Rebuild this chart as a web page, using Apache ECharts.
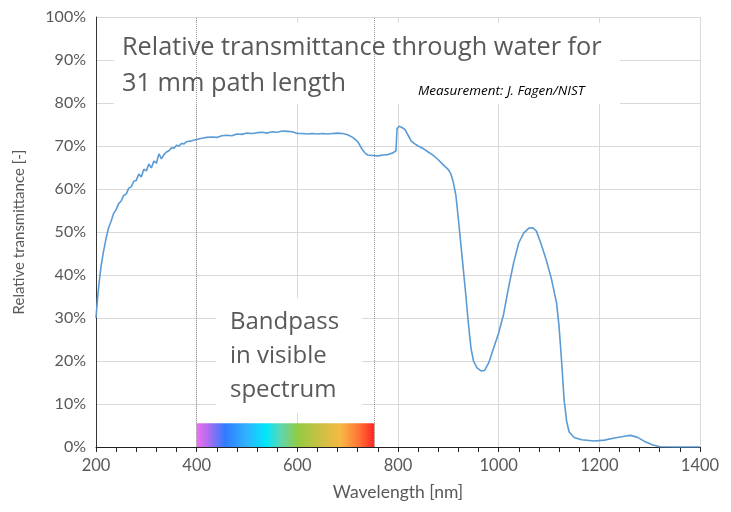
<!DOCTYPE html>
<html>
<head>
<meta charset="utf-8">
<script src="https://cdn.jsdelivr.net/npm/echarts@6/dist/echarts.min.js"></script>
<style>
  html, body { margin: 0; padding: 0; background: #fff; }
  #chart { width: 731px; height: 512px; }
</style>
</head>
<body>
<div id="chart"></div>
<script>
// wavelength [nm]
var wavelengths = [
  200, 203, 206, 210, 215, 220, 225, 230, 235, 240, 245, 250, 255, 260, 265, 270,
  275, 280, 285, 290, 295, 300, 305, 310, 315, 320, 325, 330, 335, 340, 345, 350,
  355, 360, 365, 370, 375, 380, 390, 400, 410, 420, 430, 440, 450, 460, 470, 480,
  490, 500, 510, 520, 530, 540, 550, 560, 570, 580, 590, 600, 610, 620, 630, 640,
  650, 660, 670, 680, 690, 700, 710, 720, 725, 730, 735, 740, 750, 760, 770, 780,
  790, 796, 798, 802, 808, 814, 820, 826, 832, 840, 850, 860, 870, 880, 890, 900,
  905, 910, 915, 920, 925, 930, 935, 940, 945, 950, 957, 965, 972, 980, 990, 1000,
  1010, 1020, 1030, 1040, 1050, 1060, 1068, 1075, 1085, 1095, 1105, 1115, 1120, 1125,
  1130, 1135, 1140, 1150, 1165, 1190, 1210, 1230, 1250, 1262, 1275, 1290, 1305, 1320,
  1350, 1400
];
// relative transmittance [%]
var transmittance = [
  30.0, 34.5, 38.0, 42.0, 45.5, 48.5, 51.0, 52.5, 54.3, 55.2, 56.6, 57.2, 58.5, 58.8, 60.2, 60.5,
  61.8, 62.0, 63.5, 62.8, 64.6, 64.2, 65.8, 64.9, 66.5, 66.0, 68.2, 67.0, 68.0, 68.6, 68.9, 69.6,
  69.5, 70.2, 70.0, 70.6, 70.5, 71.0, 71.2, 71.5, 71.8, 72.0, 72.1, 72.0, 72.4, 72.5, 72.4, 72.8,
  72.7, 73.0, 72.9, 73.1, 73.2, 73.0, 73.3, 73.2, 73.5, 73.4, 73.3, 72.9, 72.9, 72.8, 72.9, 72.8,
  72.9, 72.8, 72.9, 73.0, 72.9, 72.6, 72.0, 71.0, 70.0, 69.0, 68.3, 67.9, 67.8, 67.7, 67.9, 68.0,
  68.4, 68.9, 74.0, 74.6, 74.3, 73.8, 72.5, 71.2, 70.6, 70.0, 69.4, 68.6, 67.8, 66.8, 65.6, 64.5,
  63.5, 61.5, 58.5, 53.0, 47.0, 41.0, 35.0, 28.5, 23.0, 20.0, 18.4, 17.7, 17.8, 19.5, 23.0, 26.5,
  31.0, 37.3, 43.0, 47.5, 49.8, 50.9, 51.0, 50.2, 47.0, 43.3, 39.0, 33.5, 28.0, 20.0,
  11.0, 6.0, 3.5, 2.2, 1.7, 1.4, 1.6, 2.1, 2.5, 2.7, 2.3, 1.3, 0.5, 0.05,
  0, 0
];
// visible band edges [nm] and colour bar height [%]
var visibleBand = [400, 753];
var barHeight = 5.5;

var textColor = '#595959';

var seriesData = wavelengths.map(function (w, i) {
  return [w, transmittance[i]];
});

var dom = echarts.init(document.getElementById('chart'));
var option = {
  animation: false,
  title: {
    text: 'Relative transmittance through water for\n31 mm path length',
    left: 122,
    top: 30,
    padding: 0,
    z: 8,
    textStyle: {
      fontFamily: 'Open Sans',
      fontSize: 25.3,
      fontWeight: 'normal',
      lineHeight: 36,
      color: textColor
    }
  },
  grid: {
    left: 96,
    right: 31,
    top: 17,
    bottom: 65
  },
  xAxis: {
    type: 'value',
    min: 200,
    max: 1400,
    interval: 200,
    name: 'Wavelength [nm]',
    nameLocation: 'middle',
    nameGap: 36,
    nameTextStyle: { fontFamily: 'Lato', fontSize: 17.5, color: textColor },
    axisLine: { lineStyle: { color: '#222', width: 1 } },
    axisTick: { show: true, length: 5, lineStyle: { color: '#222' } },
    minorTick: { show: true, splitNumber: 5, length: 5, lineStyle: { color: '#222' } },
    axisLabel: {
      fontFamily: 'Lato', fontSize: 16.5, color: textColor, margin: 10,
      formatter: function (v) { return String(v); }
    },
    splitLine: { show: true, lineStyle: { color: '#d9d9d9' } }
  },
  yAxis: {
    type: 'value',
    min: 0,
    max: 100,
    interval: 10,
    name: 'Relative transmittance [-]',
    nameLocation: 'middle',
    nameGap: 69,
    nameTextStyle: { fontFamily: 'Lato', fontSize: 15, color: textColor },
    axisLine: { show: true, lineStyle: { color: '#333', width: 1 } },
    axisTick: { show: false },
    axisLabel: { fontFamily: 'Lato', fontSize: 16, color: textColor, formatter: '{value}%', margin: 10 },
    splitLine: { lineStyle: { color: '#d9d9d9' } }
  },
  graphic: [
    {
      type: 'rect',
      z: 5,
      shape: { x: 114, y: 23, width: 506, height: 81 },
      style: { fill: '#fff' }
    },
    {
      type: 'text',
      z: 8,
      left: 418,
      top: 84,
      style: {
        text: 'Measurement: J. Fagen/NIST',
        font: 'italic 13.5px "Open Sans"',
        fill: '#000'
      }
    },
    {
      type: 'rect',
      z: 5,
      shape: { x: 216, y: 298, width: 146, height: 115 },
      style: { fill: '#fff' }
    },
    {
      type: 'text',
      z: 8,
      left: 230,
      top: 305,
      style: {
        text: 'Bandpass\nin visible\nspectrum',
        font: '24px "Open Sans"',
        lineHeight: 34,
        fill: textColor
      }
    }
  ],
  series: [
    {
      type: 'line',
      data: seriesData,
      showSymbol: false,
      z: 3,
      lineStyle: { color: '#5b9bd5', width: 1.6 },
      itemStyle: { color: '#5b9bd5' },
      markLine: {
        silent: true,
        symbol: 'none',
        label: { show: false },
        lineStyle: { type: 'dotted', color: '#9a9a9a', width: 1 },
        data: [{ xAxis: visibleBand[0] }, { xAxis: visibleBand[1] }]
      },
      markArea: {
        silent: true,
        label: { show: false },
        itemStyle: {
          color: new echarts.graphic.LinearGradient(0, 0, 1, 0, [
            { offset: 0, color: '#f26df2' },
            { offset: 0.07, color: '#a86ef0' },
            { offset: 0.16, color: '#2f7bff' },
            { offset: 0.28, color: '#2fb2ff' },
            { offset: 0.39, color: '#00e6fb' },
            { offset: 0.47, color: '#5cd7b4' },
            { offset: 0.57, color: '#92cb42' },
            { offset: 0.69, color: '#c9c142' },
            { offset: 0.81, color: '#f8b843' },
            { offset: 0.92, color: '#ff6f33' },
            { offset: 1, color: '#ff2424' }
          ])
        },
        data: [[
          { xAxis: visibleBand[0], yAxis: 0 },
          { xAxis: visibleBand[1], yAxis: barHeight }
        ]]
      }
    }
  ]
};
dom.setOption(option);
</script>
</body>
</html>
